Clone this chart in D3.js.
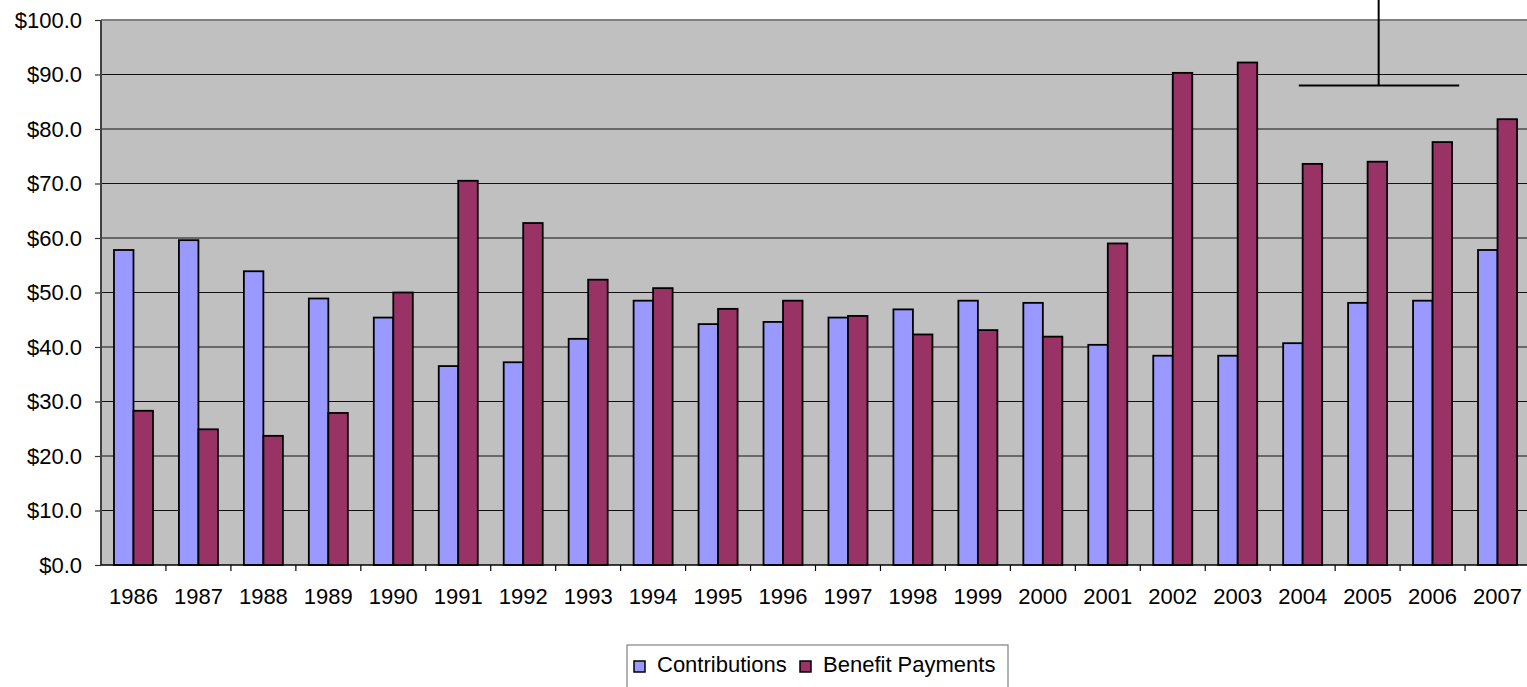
<!DOCTYPE html>
<meta charset="utf-8">
<html>
<head>
    <title>contributions vs benefit payments</title>
    <script src="https://d3js.org/d3.v7.min.js"></script>
    <style>
        body { margin: 0; background: #fff; }
        text { font-family: "Liberation Sans", Arial, sans-serif; font-size: 22px; fill: #000; }
    </style>
</head>
<body>
    <div class="chart"></div>
    <script>
    // data ($ billions)
    var years = ["1986", "1987", "1988", "1989", "1990", "1991", "1992", "1993", "1994", "1995", "1996",
                 "1997", "1998", "1999", "2000", "2001", "2002", "2003", "2004", "2005", "2006", "2007"];
    var contributions = [57.8, 59.6, 53.9, 48.9, 45.4, 36.5, 37.2, 41.5, 48.5, 44.2, 44.6,
                         45.4, 46.9, 48.5, 48.1, 40.4, 38.4, 38.4, 40.7, 48.1, 48.5, 57.8];
    var benefitPayments = [28.3, 24.9, 23.7, 27.9, 50.0, 70.5, 62.75, 52.35, 50.8, 47.0, 48.5,
                           45.7, 42.3, 43.1, 41.9, 59.0, 90.3, 92.2, 73.6, 74.0, 77.6, 81.8];
    var seriesNames = ["Contributions", "Benefit Payments"];
    var yTicks = [0, 10, 20, 30, 40, 50, 60, 70, 80, 90, 100];
    // bracket drawn over 2004-2006: [year, fraction of the slot]
    var bracketLeft = ["2004", 0.44], bracketRight = ["2006", 0.91], bracketStem = ["2005", 0.67];
    var bracketLevel = 88;

    var W = 1527, H = 687;
    var colors = ["#9999ff", "#993366"];
    var plot = {left: 101, top: 20, right: 1530, bottom: 565};

    var svg = d3.select(".chart").append("svg")
        .attr("width", W)
        .attr("height", H);

    var x = d3.scaleBand().domain(years).range([plot.left, plot.right]).padding(0);
    var xs = d3.scaleBand().domain(seriesNames).range([0, x.bandwidth()]).paddingInner(0).paddingOuter(0.665);
    var y = d3.scaleLinear().domain([0, 100]).range([plot.bottom, plot.top]);

    // plot area
    svg.append("rect")
        .attr("x", plot.left)
        .attr("y", plot.top)
        .attr("width", plot.right - plot.left)
        .attr("height", plot.bottom - plot.top)
        .style("fill", "#c0c0c0");

    // gridlines
    svg.selectAll(".grid")
        .data(yTicks.filter(function(d){ return d > 0 && d < 100; }))
        .enter().append("line")
        .attr("x1", plot.left).attr("x2", plot.right)
        .attr("y1", function(d){ return y(d); })
        .attr("y2", function(d){ return y(d); })
        .style("stroke", "#111")
        .style("stroke-width", 1);

    svg.append("line")
        .attr("x1", plot.left).attr("x2", plot.right)
        .attr("y1", y(100)).attr("y2", y(100))
        .style("stroke", "#808080")
        .style("stroke-width", 2);

    // bars
    var rows = years.map(function(yr, i){
        return {year: yr, values: [contributions[i], benefitPayments[i]]};
    });
    var groups = svg.selectAll(".yr")
        .data(rows).enter()
        .append("g")
        .attr("transform", function(d){ return "translate(" + x(d.year) + ",0)"; });
    groups.selectAll("rect")
        .data(function(d){ return d.values.map(function(v, j){ return {name: seriesNames[j], v: v, j: j}; }); })
        .enter().append("rect")
        .attr("x", function(d){ return xs(d.name); })
        .attr("y", function(d){ return y(d.v); })
        .attr("width", xs.bandwidth())
        .attr("height", function(d){ return y(0) - y(d.v); })
        .style("fill", function(d){ return colors[d.j]; })
        .style("stroke", "#000")
        .style("stroke-width", 1.8);

    // y axis
    var yAxis = svg.append("g")
        .attr("transform", "translate(" + plot.left + ",0)")
        .call(d3.axisLeft(y).tickValues(yTicks).tickSize(6).tickPadding(13)
            .tickFormat(function(d){ return "$" + d3.format(".1f")(d); }));
    yAxis.select(".domain").remove();
    yAxis.selectAll(".tick line").style("stroke", "#333").style("stroke-width", 1.2);
    yAxis.selectAll("text").style("font-size", "22px").attr("font-family", null);
    svg.append("line")
        .attr("x1", plot.left).attr("x2", plot.left)
        .attr("y1", plot.top).attr("y2", plot.bottom)
        .style("stroke", "#404040").style("stroke-width", 2);

    // x axis
    svg.append("line")
        .attr("x1", plot.left).attr("x2", plot.right)
        .attr("y1", plot.bottom).attr("y2", plot.bottom)
        .style("stroke", "#000").style("stroke-width", 1.5);
    svg.selectAll(".xtick")
        .data(years.slice(1)).enter()
        .append("line")
        .attr("x1", function(d){ return x(d); })
        .attr("x2", function(d){ return x(d); })
        .attr("y1", plot.bottom).attr("y2", plot.bottom + 6)
        .style("stroke", "#000").style("stroke-width", 1.2);
    svg.selectAll(".xlabel")
        .data(years).enter()
        .append("text")
        .attr("x", function(d){ return x(d) + x.bandwidth() / 2; })
        .attr("y", 604)
        .style("text-anchor", "middle")
        .text(function(d){ return d; });

    // bracket annotation
    var bx = function(p){ return x(p[0]) + p[1] * x.step(); };
    svg.append("line")
        .attr("x1", bx(bracketLeft)).attr("x2", bx(bracketRight))
        .attr("y1", y(bracketLevel)).attr("y2", y(bracketLevel))
        .style("stroke", "#000").style("stroke-width", 2);
    svg.append("line")
        .attr("x1", bx(bracketStem)).attr("x2", bx(bracketStem))
        .attr("y1", 0).attr("y2", y(bracketLevel))
        .style("stroke", "#000").style("stroke-width", 2);

    // legend
    var legend = svg.append("g");
    legend.append("rect")
        .attr("x", 627).attr("y", 645)
        .attr("width", 381).attr("height", 60)
        .style("fill", "#fff")
        .style("stroke", "#808080")
        .style("stroke-width", 1.2);
    var legendX = [634, 800];
    seriesNames.forEach(function(name, i){
        legend.append("rect")
            .attr("x", legendX[i]).attr("y", 661)
            .attr("width", 11).attr("height", 11)
            .style("fill", colors[i])
            .style("stroke", "#000")
            .style("stroke-width", 1.5);
        legend.append("text")
            .attr("x", legendX[i] + 23)
            .attr("y", 672)
            .text(name);
    });
    </script>
</body>
</html>
